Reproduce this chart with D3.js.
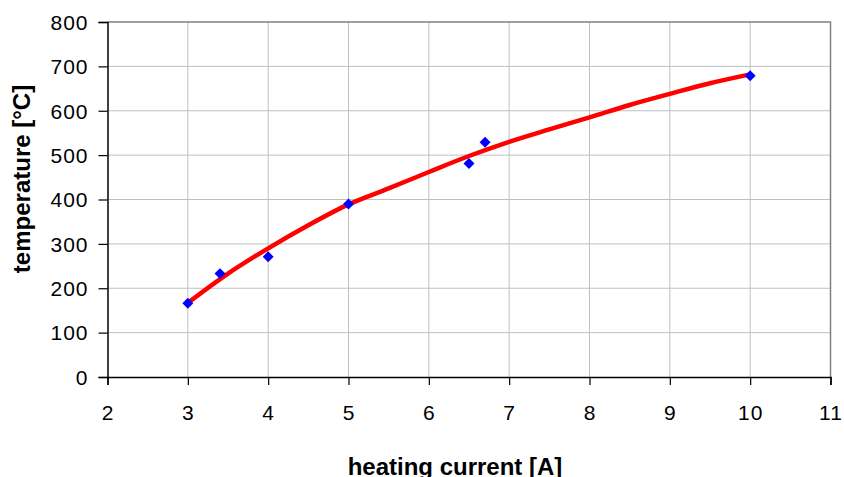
<!DOCTYPE html>
<html>
<head>
<meta charset="utf-8">
<script src="https://cdn.jsdelivr.net/npm/d3@7"></script>
<style>
  body { margin: 0; background: #fff; }
  svg { display: block; font-family: "Liberation Sans", Arial, sans-serif; }
</style>
</head>
<body>
<div id="chart"></div>
<script>
// measured points (blue diamonds)
var currentA = [3, 3.4, 4, 5, 6.5, 6.7, 10];
var tempC    = [166, 233, 271, 390, 481, 529, 679];

// fitted trend line (red)
var fitA = [3, 3.5, 4, 4.5, 5, 5.5, 6, 6.5, 7, 7.5, 8, 8.5, 9, 9.5, 10];
var fitC = [167, 233, 290, 342, 389, 425, 462, 498, 530, 558, 585, 613, 638, 662, 682];

var xTicks = [2, 3, 4, 5, 6, 7, 8, 9, 10, 11];
var yTicks = [0, 100, 200, 300, 400, 500, 600, 700, 800];

var W = 844, H = 477;
var pL = 107.5, pR = 830.5, pT = 22, pB = 377;

var svg = d3.select("#chart").append("svg")
  .attr("width", W)
  .attr("height", H);

var x = d3.scaleLinear().domain([2, 11]).range([pL, pR]);
var y = d3.scaleLinear().domain([0, 800]).range([pB, pT]);

// grid
svg.append("g").selectAll("line")
  .data(xTicks.slice(1, -1))
  .enter().append("line")
  .attr("x1", function(d) { return x(d); })
  .attr("x2", function(d) { return x(d); })
  .attr("y1", pT).attr("y2", pB)
  .attr("stroke", "#c0c0c0").attr("stroke-width", 1);

svg.append("g").selectAll("line")
  .data(yTicks.slice(1, -1))
  .enter().append("line")
  .attr("x1", pL).attr("x2", pR)
  .attr("y1", function(d) { return y(d); })
  .attr("y2", function(d) { return y(d); })
  .attr("stroke", "#c0c0c0").attr("stroke-width", 1);

// plot border (top / right)
svg.append("path")
  .attr("d", "M" + pL + "," + pT + "H" + pR + "V" + pB)
  .attr("fill", "none")
  .attr("stroke", "#808080")
  .attr("stroke-width", 1.5);

// axes
var yAxis = d3.axisLeft(y).tickValues(yTicks).tickSize(9).tickPadding(10);
var xAxis = d3.axisBottom(x).tickValues(xTicks).tickSize(8).tickPadding(20);

var gy = svg.append("g").attr("transform", "translate(" + pL + ",0)").call(yAxis);
var gx = svg.append("g").attr("transform", "translate(0," + pB + ")").call(xAxis);

[gx, gy].forEach(function(g) {
  g.attr("font-size", null).attr("font-family", null);
  g.select(".domain").attr("stroke", "#000").attr("stroke-width", 1.5);
  g.selectAll(".tick line").attr("stroke", "#000").attr("stroke-width", 1.2);
  g.selectAll(".tick text")
    .attr("fill", "#000")
    .style("font-size", "21px")
    .style("letter-spacing", "1px");
});
gy.selectAll(".tick text").attr("dy", "0.35em");

// fitted line
var fit = fitA.map(function(d, i) { return { a: d, c: fitC[i] }; });
svg.append("path")
  .datum(fit)
  .attr("fill", "none")
  .attr("stroke", "#ff0000")
  .attr("stroke-width", 4.5)
  .attr("stroke-linecap", "round")
  .attr("d", d3.line()
    .curve(d3.curveCatmullRom)
    .x(function(d) { return x(d.a); })
    .y(function(d) { return y(d.c); }));

// measured points
var pts = currentA.map(function(d, i) { return { a: d, c: tempC[i] }; });
svg.append("g").selectAll("path")
  .data(pts)
  .enter().append("path")
  .attr("d", d3.symbol(d3.symbolSquare, 60))
  .attr("fill", "#0000ff")
  .attr("transform", function(d) {
    return "translate(" + x(d.a) + "," + y(d.c) + ") rotate(45)";
  });

// axis titles
svg.append("text")
  .attr("x", 455).attr("y", 475)
  .attr("text-anchor", "middle")
  .style("font-size", "24px")
  .style("font-weight", "bold")
  .text("heating current [A]");

svg.append("text")
  .attr("transform", "translate(30,179) rotate(-90)")
  .attr("text-anchor", "middle")
  .style("font-size", "24px")
  .style("font-weight", "bold")
  .text("temperature [°C]");
</script>
</body>
</html>
